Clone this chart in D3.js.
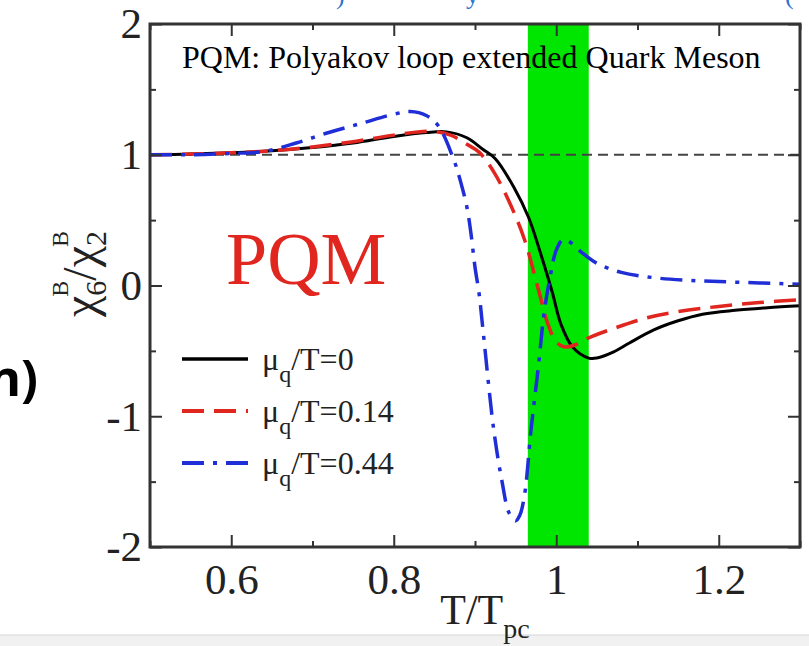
<!DOCTYPE html>
<html>
<head>
<meta charset="utf-8">
<script src="https://cdn.jsdelivr.net/npm/d3@7"></script>
<style>
  body { margin: 0; background: #fff; }
  svg { display: block; }
</style>
</head>
<body>
<div id="chart"></div>
<script>
var W = 809, H = 646;
var m = { left: 150, top: 24, right: 9, bottom: 99 };

// data
var xMajor = [0.6, 0.8, 1.0, 1.2];
var xMinor = [0.5, 0.7, 0.9, 1.1, 1.3];
var xLabels = ["0.6", "0.8", "1", "1.2"];
var yMajor = [-2, -1, 0, 1, 2];
var yMinor = [-1.5, -0.5, 0.5, 1.5];
var yLabels = ["-2", "-1", "0", "1", "2"];
var band = [0.965, 1.04];

var mu0 = [[0.50,1.00],[0.55,1.005],[0.60,1.015],[0.65,1.03],[0.70,1.055],[0.75,1.09],[0.80,1.14],
  [0.84,1.17],[0.865,1.175],[0.89,1.13],[0.91,1.04],[0.925,0.97],[0.948,0.75],[0.966,0.52],
  [0.982,0.22],[0.995,-0.05],[1.006,-0.30],[1.02,-0.47],[1.04,-0.555],[1.05,-0.555],[1.07,-0.51],
  [1.09,-0.44],[1.12,-0.34],[1.15,-0.27],[1.18,-0.22],[1.22,-0.19],[1.26,-0.17],[1.30,-0.155]];
var mu014 = [[0.50,1.00],[0.55,1.005],[0.60,1.015],[0.65,1.03],[0.70,1.06],[0.75,1.10],[0.80,1.15],
  [0.845,1.18],[0.87,1.15],[0.89,1.08],[0.905,1.02],[0.924,0.86],[0.945,0.60],[0.961,0.35],
  [0.978,-0.03],[0.99,-0.30],[1.0,-0.43],[1.01,-0.47],[1.025,-0.45],[1.04,-0.40],[1.07,-0.33],
  [1.11,-0.25],[1.15,-0.20],[1.20,-0.16],[1.25,-0.13],[1.30,-0.11]];
var mu044 = [[0.50,1.00],[0.55,1.00],[0.60,1.01],[0.64,1.025],[0.68,1.09],[0.72,1.17],[0.76,1.24],
  [0.80,1.31],[0.82,1.33],[0.84,1.30],[0.855,1.22],[0.874,0.96],[0.882,0.80],[0.89,0.60],
  [0.895,0.40],[0.90,0.14],[0.905,-0.06],[0.91,-0.35],[0.923,-1.10],[0.933,-1.49],[0.942,-1.74],
  [0.950,-1.80],[0.955,-1.76],[0.961,-1.60],[0.969,-1.10],[0.978,-0.62],[0.985,-0.21],[0.992,0.05],
  [1.0,0.27],[1.008,0.35],[1.015,0.34],[1.03,0.26],[1.05,0.17],[1.08,0.10],[1.12,0.06],[1.16,0.04],
  [1.20,0.03],[1.25,0.02],[1.30,0.01]];

var series = [
  { name: "0", data: mu0, color: "#000000", dash: null, width: 3 },
  { name: "0.14", data: mu014, color: "#e0261f", dash: "22,10", width: 3.5 },
  { name: "0.44", data: mu044, color: "#1f2ed6", dash: "22,9,4,9", width: 3.5 }
];

var serif = "'Liberation Serif', 'Times New Roman', serif";

var svg = d3.select("#chart").append("svg")
  .attr("width", W)
  .attr("height", H);

var x = d3.scaleLinear().domain([0.5, 1.3]).range([m.left, W - m.right]);
var y = d3.scaleLinear().domain([-2, 2]).range([H - m.bottom, m.top]);

// slide remnants around the figure
svg.append("rect").attr("x", 0).attr("y", 635).attr("width", W).attr("height", 11).attr("fill", "#f1f1f1");
svg.append("line").attr("x1", 0).attr("x2", W).attr("y1", 635).attr("y2", 635)
  .attr("stroke", "#d6d6d6").attr("stroke-width", 1);
svg.selectAll("text.top").data([[336, ")"], [466, "y"], [785, "("]]).enter().append("text")
  .attr("x", d => d[0]).attr("y", 4)
  .attr("fill", "#2b73d0")
  .style("font-family", serif).style("font-size", "26px")
  .text(d => d[1]);
svg.append("text")
  .attr("x", 38).attr("y", 396)
  .attr("text-anchor", "end")
  .style("font-family", "'Open Sans', 'DejaVu Sans', sans-serif")
  .style("font-weight", "bold").style("font-size", "50px")
  .text("n)");

// green band
svg.append("rect")
  .attr("x", x(band[0])).attr("y", y(2))
  .attr("width", x(band[1]) - x(band[0]))
  .attr("height", y(-2) - y(2))
  .attr("fill", "#00e600");

// reference line at 1
svg.append("line")
  .attr("x1", x(0.5)).attr("x2", x(1.3))
  .attr("y1", y(1)).attr("y2", y(1))
  .attr("stroke", "#444").attr("stroke-width", 2.2)
  .attr("stroke-dasharray", "10,6");

// curves
var line = d3.line()
  .x(d => x(d[0]))
  .y(d => y(d[1]))
  .curve(d3.curveCatmullRom.alpha(0.5));

var plot = svg.append("g");
series.forEach(s => {
  plot.append("path")
    .datum(s.data)
    .attr("d", line)
    .attr("fill", "none")
    .attr("stroke", s.color)
    .attr("stroke-width", s.width)
    .attr("stroke-dasharray", s.dash)
    .attr("stroke-linejoin", "round");
});

// axes, ticks pointing inward
function styleAxis(g) {
  g.select(".domain").remove();
  g.selectAll("line").attr("stroke", "#333").attr("stroke-width", 2);
  g.selectAll("text").attr("fill", "#222")
    .style("font-family", serif).style("font-size", "43px");
}
var yBot = y(-2), yTop = y(2), xLeft = x(0.5), xRight = x(1.3);

svg.append("g").attr("transform", `translate(0,${yBot})`)
  .call(d3.axisBottom(x).tickValues(xMajor).tickSize(-12).tickPadding(16)
    .tickFormat((d, i) => xLabels[i]))
  .call(styleAxis);
svg.append("g").attr("transform", `translate(0,${yBot})`)
  .call(d3.axisBottom(x).tickValues(xMinor).tickSize(-6).tickFormat(""))
  .call(styleAxis);
svg.append("g").attr("transform", `translate(0,${yTop})`)
  .call(d3.axisTop(x).tickValues(xMajor).tickSize(-12).tickFormat(""))
  .call(styleAxis);
svg.append("g").attr("transform", `translate(0,${yTop})`)
  .call(d3.axisTop(x).tickValues(xMinor).tickSize(-6).tickFormat(""))
  .call(styleAxis);

svg.append("g").attr("transform", `translate(${xLeft},0)`)
  .call(d3.axisLeft(y).tickValues(yMajor).tickSize(-12).tickPadding(8)
    .tickFormat((d, i) => yLabels[i]))
  .call(styleAxis);
svg.append("g").attr("transform", `translate(${xLeft},0)`)
  .call(d3.axisLeft(y).tickValues(yMinor).tickSize(-6).tickFormat(""))
  .call(styleAxis);
svg.append("g").attr("transform", `translate(${xRight},0)`)
  .call(d3.axisRight(y).tickValues(yMajor).tickSize(-12).tickFormat(""))
  .call(styleAxis);
svg.append("g").attr("transform", `translate(${xRight},0)`)
  .call(d3.axisRight(y).tickValues(yMinor).tickSize(-6).tickFormat(""))
  .call(styleAxis);

// frame
svg.append("rect")
  .attr("x", xLeft).attr("y", yTop)
  .attr("width", xRight - xLeft).attr("height", yBot - yTop)
  .attr("fill", "none").attr("stroke", "#333").attr("stroke-width", 3);

// titles
svg.append("text")
  .attr("x", 182).attr("y", 68)
  .style("font-family", serif).style("font-size", "32px")
  .text("PQM: Polyakov loop extended Quark Meson");

svg.append("text")
  .attr("x", 226).attr("y", 284)
  .attr("fill", "#e0261f")
  .style("font-family", serif).style("font-size", "74px")
  .text("PQM");

var xl = svg.append("text")
  .attr("x", 485).attr("y", 624)
  .attr("text-anchor", "middle")
  .attr("fill", "#222")
  .style("font-family", serif).style("font-size", "42px");
xl.append("tspan").text("T/T");
xl.append("tspan").attr("dy", 14).style("font-size", "28px").text("pc");

var yl = svg.append("text")
  .attr("transform", "translate(96,274) rotate(-90)")
  .attr("text-anchor", "middle")
  .attr("fill", "#222")
  .style("font-family", serif).style("font-size", "48px");
yl.append("tspan").text("\u03c7");
yl.append("tspan").attr("dy", 10).style("font-size", "30px").text("6");
yl.append("tspan").attr("dx", -16).attr("dy", -38).style("font-size", "24px").text("B");
yl.append("tspan").attr("dy", 28).text("/\u03c7");
yl.append("tspan").attr("dy", 10).style("font-size", "30px").text("2");
yl.append("tspan").attr("dx", -16).attr("dy", -38).style("font-size", "24px").text("B");

// legend
var leg = svg.append("g");
series.forEach((s, i) => {
  var ly = 359 + i * 52;
  leg.append("line")
    .attr("x1", 182).attr("x2", 248).attr("y1", ly).attr("y2", ly)
    .attr("stroke", s.color).attr("stroke-width", s.width + 0.5)
    .attr("stroke-dasharray", s.dash);
  var t = leg.append("text")
    .attr("x", 262).attr("y", ly + 11)
    .attr("fill", "#222")
    .style("font-family", serif).style("font-size", "32px");
  t.append("tspan").text("\u03bc");
  t.append("tspan").attr("dy", 12).style("font-size", "24px").text("q");
  t.append("tspan").attr("dy", -12).text("/T=" + s.name);
});
</script>
</body>
</html>
